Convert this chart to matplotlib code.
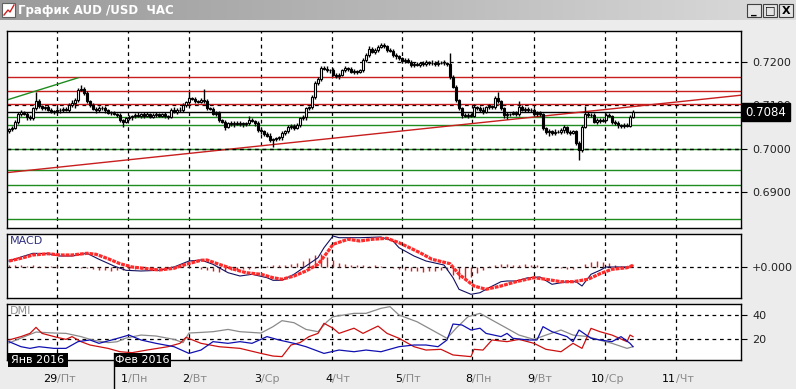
import numpy as np
import matplotlib.pyplot as plt
from matplotlib.patches import Rectangle
import matplotlib.transforms as mtransforms

# ---------------------------------------------------------------------------
# data
# ---------------------------------------------------------------------------

# hourly closes, AUD/USD
closes = [
    0.7045, 0.7048, 0.7061, 0.7080, 0.7084, 0.7080, 0.7072, 0.7070, 0.7093, 0.7110,
    0.7098, 0.7093, 0.7095, 0.7090, 0.7084, 0.7086, 0.7090, 0.7088, 0.7092, 0.7089,
    0.7100, 0.7105, 0.7112, 0.7135, 0.7138, 0.7128, 0.7110, 0.7100, 0.7092, 0.7088,
    0.7093, 0.7094, 0.7088, 0.7082, 0.7082, 0.7080, 0.7078, 0.7066, 0.7062, 0.7070,
    0.7072, 0.7075, 0.7078, 0.7075, 0.7080, 0.7076, 0.7079, 0.7074, 0.7078, 0.7080,
    0.7076, 0.7079, 0.7075, 0.7073, 0.7089, 0.7085, 0.7090, 0.7088, 0.7100, 0.7107,
    0.7116, 0.7114, 0.7110, 0.7108, 0.7112, 0.7110, 0.7093, 0.7092, 0.7080, 0.7082,
    0.7066, 0.7062, 0.7050, 0.7058, 0.7056, 0.7060, 0.7057, 0.7059, 0.7056, 0.7058,
    0.7066, 0.7064, 0.7058, 0.7043, 0.7040, 0.7034, 0.7030, 0.7020, 0.7022, 0.7024,
    0.7026, 0.7036, 0.7040, 0.7050, 0.7052, 0.7048, 0.7055, 0.7070, 0.7072, 0.7093,
    0.7095, 0.7119, 0.7150, 0.7160, 0.7185, 0.7183, 0.7180, 0.7180, 0.7169, 0.7166,
    0.7170, 0.7180, 0.7185, 0.7183, 0.7176, 0.7178, 0.7176, 0.7180, 0.7203, 0.7215,
    0.7230, 0.7222, 0.7226, 0.7234, 0.7238, 0.7235, 0.7227, 0.7225, 0.7215, 0.7212,
    0.7208, 0.7202, 0.7204, 0.7200, 0.7192, 0.7195, 0.7192, 0.7197, 0.7195, 0.7199,
    0.7196, 0.7198, 0.7194, 0.7197, 0.7198, 0.7196, 0.7195, 0.7165, 0.7142, 0.7112,
    0.7093, 0.7077, 0.7075, 0.7078, 0.7076, 0.7096, 0.7094, 0.7090, 0.7084, 0.7096,
    0.7098, 0.7095, 0.7116, 0.7110, 0.7093, 0.7077, 0.7079, 0.7080, 0.7082, 0.7080,
    0.7096, 0.7090, 0.7092, 0.7088, 0.7090, 0.7080, 0.7082, 0.7079, 0.7047, 0.7038,
    0.7040, 0.7036, 0.7039, 0.7038, 0.7043, 0.7050, 0.7038, 0.7036, 0.7040, 0.7013,
    0.6997, 0.7050, 0.7080, 0.7077, 0.7078, 0.7061, 0.7066, 0.7064, 0.7067, 0.7077,
    0.7075, 0.7061, 0.7058, 0.7054, 0.7052, 0.7055, 0.7053, 0.7073, 0.7084,
]
first_open = 0.7040

# wick lengths in pips (above body / below body)
wick_up = [
    3, 4, 5, 4, 6, 3, 4, 5, 4, 20,  5, 3, 4, 6, 3, 4, 5, 3, 4, 5,
    4, 6, 5, 4, 8, 5, 4, 3, 5, 4,   6, 5, 4, 3, 4, 5, 3, 4, 3, 4,
    5, 3, 4, 6, 3, 4, 5, 3, 4, 5,   3, 4, 5, 3, 4, 6, 3, 5, 4, 3,
    14, 4, 5, 3, 4, 25, 4, 3, 5, 4, 4, 3, 5, 4, 6, 3, 4, 5, 3, 4,
    10, 4, 3, 5, 4, 3, 4, 5, 3, 4,  4, 5, 3, 4, 5, 4, 3, 4, 5, 4,
    4, 5, 6, 4, 5, 4, 6, 3, 5, 4,   5, 4, 6, 3, 4, 5, 4, 3, 5, 6,
    5, 4, 6, 5, 4, 6, 3, 4, 5, 4,   4, 3, 5, 4, 3, 5, 4, 3, 5, 4,
    3, 5, 4, 6, 3, 5, 4, 25, 5, 4,  3, 4, 5, 3, 4, 6, 3, 4, 5, 3,
    4, 3, 5, 14, 3, 4, 5, 3, 4, 5,  14, 4, 3, 5, 4, 3, 5, 4, 3, 4,
    5, 4, 6, 3, 5, 4, 3, 5, 4, 3,   4, 5, 18, 4, 5, 3, 4, 5, 3, 4,
    5, 3, 4, 5, 3, 4, 5, 4, 6,
]
wick_dn = [
    3, 4, 3, 5, 4, 3, 6, 4, 3, 4,   4, 3, 5, 4, 3, 4, 3, 5, 4, 3,
    4, 3, 12, 4, 3, 5, 4, 3, 4, 5,  3, 4, 5, 3, 4, 3, 5, 4, 12, 4,
    3, 5, 4, 3, 4, 5, 3, 4, 3, 5,   4, 3, 5, 4, 3, 4, 5, 3, 4, 3,
    4, 3, 5, 4, 3, 4, 5, 4, 3, 4,   5, 4, 6, 3, 4, 5, 3, 4, 5, 3,
    4, 3, 5, 4, 6, 4, 3, 5, 16, 4,  3, 5, 4, 3, 4, 5, 3, 4, 3, 5,
    3, 4, 5, 3, 4, 3, 4, 5, 3, 4,   5, 3, 4, 5, 3, 4, 5, 3, 4, 3,
    4, 3, 5, 4, 3, 4, 5, 3, 4, 5,   3, 4, 5, 3, 4, 5, 3, 4, 5, 4,
    4, 3, 5, 4, 3, 4, 5, 4, 3, 5,   4, 6, 3, 5, 4, 3, 4, 5, 4, 3,
    5, 4, 3, 5, 4, 6, 8, 4, 3, 5,   4, 3, 5, 4, 3, 5, 4, 3, 5, 4,
    8, 4, 5, 3, 4, 6, 4, 5, 3, 4,   23, 4, 3, 5, 4, 3, 5, 4, 3, 4,
    3, 5, 4, 6, 4, 5, 3, 4, 3,
]

# drawn levels and trend lines
red_levels = [0.7165, 0.7133, 0.7102]
green_levels = [0.7073, 0.7054, 0.6999, 0.6951, 0.6917, 0.6838]
last_price = 0.7084
red_trend_x = [-0.7, 244.0]
red_trend_y = [0.6945, 0.7123]
green_trend_x = [-0.7, 23.0]
green_trend_y = [0.7112, 0.7163]

price_ticks = [0.6900, 0.7000, 0.7100, 0.7200]
price_labels = ["0.6900", "0.7000", "0.7100", "0.7200"]

# day separators (bar index) and labels
day_pos = [16, 39.7, 60, 84, 107.7, 131, 154.3, 175, 198.7, 222.3]
day_num = ["29", "1", "2", "3", "4", "5", "8", "9", "10", "11"]
day_name = ["Пт", "Пн", "Вт", "Ср", "Чт", "Пт", "Пн", "Вт", "Ср", "Чт"]
months = ["Янв 2016", "Фев 2016"]

# MACD (in panel units)
hist_vals = [
    2, 2, 2, 1, 2, 1,  1, 1, 1,  0, 1, 0, -1, -1,  -2, -3, -3, -4, -3, -3,
    -3, -2, -2, -2, -2, -1, -1,  1, 1, 2, 1, 0,  -2, -3, -4, -5, -4,
    -3, -3, -2, -2, -1,  0, 1, 2, 2, 2,  3, 4, 6,  9, 12, 13, 10,  7, 4,
    3, 2, 2, 2, 1, 2, 1, 0, -1,  -2, -3, -4, -4, -5, -4, -4, -3, -3,
    -8, -12, -13,  -10, -6, -3,  1, 2, 3, 3, 2, 2, 3, 2, 2, 1,
    0, -1, -1, -2, -2, 0,  3, 5, 6, 5, 4,  2, 1, 1, 0,
]
macd_idx = [0, 4, 8, 13, 17, 21, 26, 30, 35, 39, 44, 50, 55, 60, 64, 68, 73, 77, 81,
            86, 88, 91, 95, 99, 103, 105, 108, 110, 117, 124, 128, 130, 135, 139,
            145, 148, 150, 154, 157, 160, 164, 166, 169, 173, 177, 181, 186, 189,
            191, 194, 197, 199, 203, 207, 208]
macd_main = [6, 10, 13.7, 13.3, 11, 11, 13.7, 7.7, 1, -3.3, -4, -3.3, 0, 6, 7, 2.7,
             -5.7, -9, -7.3, -10.7, -13.3, -13.3, -7.3, 1, 9.3, 19.3, 31, 29.3, 29.3,
             30, 26, 19.3, 11, 6, 2, -10.7, -22.3, -27.3, -25.7, -20.7, -14.7, -14,
             -14, -10.7, -10, -17.3, -14.7, -14.7, -19, -7.3, -3.3, 0, 0, 0, 1.7]
sig_idx = [0, 4, 8, 13, 17, 21, 26, 29, 33, 37, 41, 46, 50, 55, 59, 64, 66, 70, 75,
           79, 84, 88, 91, 95, 99, 103, 106, 108, 113, 117, 121, 126, 130, 137, 141,
           147, 150, 155, 159, 164, 169, 175, 179, 184, 188, 193, 197, 201, 206, 208]
macd_signal = [6, 8.7, 12, 13.3, 12, 12, 13.7, 12.7, 8.3, 3.3, 0, -1.7, -3, -1.3,
               2.7, 6.7, 7, 2.7, -2.3, -5.7, -7.3, -10.7, -12.3, -9, -4, 2.7, 14.3,
               22.7, 27.7, 26, 27.7, 28.7, 24.3, 14.3, 7.7, 3.3, -7.3, -19, -22.3,
               -19, -14.7, -10.7, -12.3, -14.7, -14.7, -12.3, -6.7, -2.3, -0.7, 1.7]

# DMI
adx_idx = [0, 4, 9, 15, 19, 24, 28, 33, 36, 39, 44, 49, 55, 58, 60, 64, 68, 73, 77,
           84, 88, 91, 95, 99, 103, 106, 108, 115, 119, 124, 127, 130, 136, 141, 146,
           149, 153, 157, 161, 166, 170, 175, 179, 184, 188, 193, 197, 201, 206, 208]
adx = [16.7, 20.8, 25.8, 25, 24.7, 22, 19, 17, 17.7, 20.8, 23.3, 22.5, 19.7, 17, 25,
       25.5, 26.1, 28, 26.1, 25, 30.3, 35.3, 33.6, 28, 26.1, 34.4, 38.6, 41.4, 41.4,
       45.6, 47, 40, 34.4, 27.5, 20.6, 28.9, 38.6, 41.4, 35.8, 28.9, 23.3, 19.7,
       23.3, 27.5, 23.3, 22, 19, 16.4, 12.2, 13.6]
red_idx = [0, 4, 7, 9, 11, 16, 19, 21, 24, 27, 33, 37, 41, 46, 53, 57, 59, 64, 70, 77,
           84, 88, 91, 94, 97, 100, 103, 105, 108, 110, 115, 118, 123, 126, 130, 135,
           139, 144, 148, 154, 155, 158, 161, 166, 170, 175, 179, 184, 188, 191, 194,
           197, 201, 206, 207, 208]
dmi_red = [19.2, 22, 24.7, 29.7, 24.7, 21.4, 19.7, 22, 17.8, 15, 12.2, 9.4, 8.6, 10.8,
           13.6, 16.4, 21.4, 16.4, 13.6, 12.2, 8, 5.8, 5.3, 15, 17, 22, 24.7, 33.1, 29,
           24.7, 29, 24.7, 30.8, 24.7, 20.6, 13.6, 10.8, 11.4, 6.7, 5.3, 11.4, 10.8,
           19.2, 17.8, 19.7, 16.4, 11.4, 9.4, 16.4, 12.2, 28.9, 26.1, 23.3, 17.8,
           23.3, 22]
blue_idx = [0, 4, 7, 10, 15, 19, 23, 27, 30, 35, 40, 44, 49, 55, 60, 64, 68, 73, 77,
            81, 86, 90, 95, 99, 105, 110, 115, 119, 124, 128, 130, 135, 139, 143, 146,
            148, 151, 154, 157, 159, 164, 166, 168, 173, 176, 178, 181, 186, 188, 190,
            194, 197, 201, 204, 207, 208]
dmi_blue = [17.8, 13.6, 12.2, 13.6, 12.2, 12.2, 17.8, 19.2, 16.4, 19.7, 23.3, 19.2,
            16.4, 13.6, 8, 10.8, 17.8, 16.4, 17.8, 16.4, 22, 19.2, 16.4, 13.6, 8, 10.8,
            9.4, 10.8, 9.4, 12.2, 13.6, 15, 15, 13.6, 19.2, 32.5, 31.7, 27.5, 29, 24.7,
            22, 24.7, 20.6, 19.2, 19.2, 30.3, 26.1, 22, 17.8, 27.5, 20.6, 19.2, 17.8,
            22, 16.4, 13.6]

# ---------------------------------------------------------------------------
# layout helpers (pixel boxes -> figure fractions)
# ---------------------------------------------------------------------------
W, H = 796, 389
BG = "#ececec"
DASH = (0, (3, 3))
XLIM = (-0.67, 244.0)


def box(x0, y0, x1, y1):
    return [x0 / W, 1 - y1 / H, (x1 - x0) / W, (y1 - y0) / H]


def fx(x):
    return x / W


def fy(y):
    return 1 - y / H


def style_panel(ax):
    ax.set_facecolor("white")
    ax.set_xlim(*XLIM)
    ax.set_xticks([])
    for s in ax.spines.values():
        s.set_color("black")
        s.set_linewidth(1.0)
    ax.yaxis.tick_right()
    ax.tick_params(axis="y", length=4, width=0.8, pad=4, labelsize=8,
                   labelcolor="#222222", color="black")
    for d in day_pos:
        ax.axvline(d, color="black", lw=0.9, ls=DASH, zorder=1)


fig = plt.figure(figsize=(W / 100, H / 100), dpi=100, facecolor=BG)

# title bar
tb = fig.add_axes(box(0, 0, W, 20))
grad = np.linspace(0, 1, 256).reshape(1, -1)
tb.imshow(grad, aspect="auto", cmap=plt.matplotlib.colors.LinearSegmentedColormap.from_list(
    "tb", ["#9a9a9a", "#b8b8b8", "#dcdcdc"]), extent=[0, 1, 0, 1])
tb.set_axis_off()
fig.text(fx(18), fy(10.5), "График AUD /USD  ЧАС", color="white", fontsize=8.5,
         fontweight="bold", va="center", ha="left")
# window icon
fig.add_artist(Rectangle((fx(2), fy(17)), 13 / W, 14 / H, transform=fig.transFigure,
                         facecolor="white", edgecolor="#606060", lw=0.8))
fig.add_artist(plt.Line2D([fx(4), fx(8), fx(10), fx(14)], [fy(15), fy(10), fy(12), fy(5)],
                          transform=fig.transFigure, color="#cc2020", lw=1))
# window buttons
for bx, glyph in zip([747, 763, 779], ["_", "□", "X"]):
    fig.add_artist(Rectangle((fx(bx), fy(17)), 14 / W, 13 / H, transform=fig.transFigure,
                             facecolor="#e4e4e4", edgecolor="#404040", lw=0.8))
    fig.text(fx(bx + 7), fy(10.5), glyph, fontsize=8, fontweight="bold",
             ha="center", va="center", color="black")

# ---------------------------------------------------------------------------
# price panel
# ---------------------------------------------------------------------------
ax = fig.add_axes(box(7, 31, 741, 228))
style_panel(ax)
ax.set_ylim(0.68177, 0.72706)
ax.set_yticks(price_ticks)
ax.set_yticklabels(price_labels)
for p in price_ticks:
    ax.axhline(p, color="black", lw=0.9, ls=DASH, zorder=1)

for lv in red_levels:
    ax.axhline(lv, color="#c81e1e", lw=1.0, zorder=2)
for lv in green_levels:
    ax.axhline(lv, color="#1e8c1e", lw=1.0, zorder=2)
ax.axhline(0.7000, color="black", lw=0.9, ls=DASH, zorder=2.5)
ax.axhline(last_price, color="black", lw=1.0, zorder=2)
ax.plot(red_trend_x, red_trend_y, color="#c81e1e", lw=1.0, zorder=2)
ax.plot(green_trend_x, green_trend_y, color="#1e8c1e", lw=1.0, zorder=2)

c = np.array(closes)
o = np.r_[first_open, c[:-1]]
idx = np.arange(len(c))
hi = np.maximum(o, c) + np.array(wick_up) * 1e-4
lo = np.minimum(o, c) - np.array(wick_dn) * 1e-4
ax.vlines(idx, lo, hi, color="black", lw=1.0, zorder=3)
up = c >= o
ax.bar(idx[up], (c - o)[up], bottom=o[up], width=0.8, color="white",
       edgecolor="black", lw=0.8, zorder=4)
ax.bar(idx[~up], (o - c)[~up], bottom=c[~up], width=0.8, color="black",
       edgecolor="black", lw=0.8, zorder=4)

# current price tag (covers the 0.7100 label as in the terminal)
fig.add_artist(Rectangle((fx(742), fy(121)), 48 / W, 18 / H, transform=fig.transFigure,
                         facecolor="black", edgecolor="black", zorder=5))
fig.text(fx(766), fy(112), f"{last_price:.4f}", color="white", fontsize=8.5,
         ha="center", va="center", zorder=6)

# ---------------------------------------------------------------------------
# MACD panel
# ---------------------------------------------------------------------------
axm = fig.add_axes(box(7, 234, 741, 298))
style_panel(axm)
axm.set_ylim(-31, 33)
axm.set_yticks([0])
axm.set_yticklabels(["+0.000"])
axm.axhline(0, color="black", lw=0.9, ls=DASH, zorder=1)
hist_idx = np.arange(0, len(closes), 2)
axm.vlines(hist_idx, 0, hist_vals, color="#e02020", lw=1.0, zorder=2)
axm.plot(macd_idx, macd_main, color="#101060", lw=0.8, zorder=3)
axm.plot(sig_idx, macd_signal, color="#ff2a2a", lw=2.3, ls=(0, (1.2, 0.3)), zorder=4)
axm.text(0.004, 0.89, "MACD", transform=axm.transAxes, color="#303080", fontsize=8,
         va="center", ha="left")

# ---------------------------------------------------------------------------
# DMI panel
# ---------------------------------------------------------------------------
axd = fig.add_axes(box(7, 304, 741, 360))
style_panel(axd)
axd.set_ylim(2.5, 49.2)
axd.set_yticks([20, 40])
axd.set_yticklabels(["20", "40"])
for g in [20, 40]:
    axd.axhline(g, color="black", lw=0.9, ls=DASH, zorder=1)
axd.plot(adx_idx, adx, color="#8a8a8a", lw=0.9, zorder=2)
axd.plot(red_idx, dmi_red, color="#cc1010", lw=0.9, zorder=3)
axd.plot(blue_idx, dmi_blue, color="#1010b0", lw=0.9, zorder=3)
axd.text(0.004, 0.875, "DMI", transform=axd.transAxes, color="#909090", fontsize=8,
         va="center", ha="left")

# day labels
trans = mtransforms.blended_transform_factory(axd.transData, fig.transFigure)
for d, num, name in zip(day_pos, day_num, day_name):
    fig.text(d, fy(379), num, transform=trans, fontsize=8, color="black",
             ha="right", va="center")
    fig.text(d, fy(379), "/" + name, transform=trans, fontsize=8, color="#8a8a8a",
             ha="left", va="center")

# month tags
for (x0, x1), m in zip([(8, 68), (114, 171)], months):
    fig.add_artist(Rectangle((fx(x0), fy(367)), (x1 - x0) / W, 14 / H,
                             transform=fig.transFigure, facecolor="black", zorder=5))
    fig.text(fx((x0 + x1) / 2), fy(360), m, color="white", fontsize=8,
             ha="center", va="center", zorder=6)
fig.add_artist(plt.Line2D([fx(114), fx(114)], [fy(353), fy(389)],
                          transform=fig.transFigure, color="black", lw=1, zorder=5))

plt.savefig("out.png", dpi=100, facecolor=BG)
